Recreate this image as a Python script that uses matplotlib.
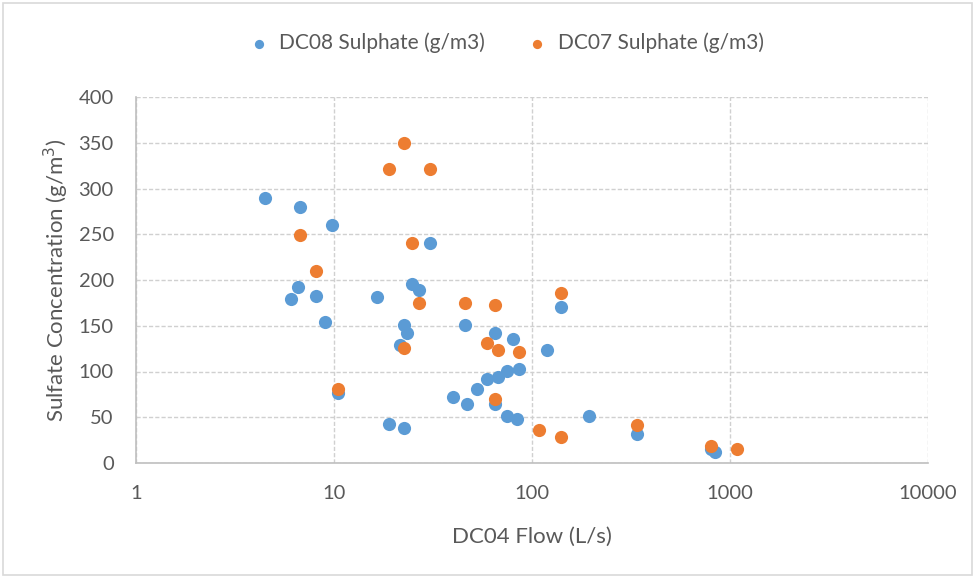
import matplotlib
matplotlib.use('Agg')
import matplotlib.pyplot as plt
from matplotlib.ticker import FixedLocator, FixedFormatter, NullLocator
from matplotlib.patches import Rectangle

# DC08 sulphate vs DC04 flow
dc08_flow = [4.5, 6.7, 9.8, 6.6, 6.1, 8.1, 9.0, 30.5, 24.8, 26.9, 16.5, 22.6,
             23.4, 21.5, 45.9, 10.5, 18.9, 22.6, 39.9, 47, 52.7, 59.3, 67.3,
             74.8, 86, 65, 80.2, 119, 140, 65, 74.8, 84, 194, 339, 800, 840]
dc08_so4 = [290, 280, 260, 192, 179, 183, 154, 240, 196, 189, 181, 151,
            142, 129, 151, 77, 43, 38, 72, 64, 81, 92, 94,
            101, 103, 142, 135, 124, 171, 65, 51, 48, 51, 32, 15, 12]

# DC07 sulphate vs DC04 flow
dc07_flow = [22.6, 18.9, 30.5, 6.7, 8.1, 24.8, 26.9, 45.9, 65, 140, 22.6,
             59.3, 67.3, 86, 10.5, 65, 108, 140, 339, 802, 1085]
dc07_so4 = [350, 321, 321, 249, 210, 240, 175, 175, 173, 186, 126,
            131, 123, 121, 81, 70, 36, 28, 41, 19, 15]

x_ticks = [1, 10, 100, 1000, 10000]
x_tick_labels = ['1', '10', '100', '1000', '10000']
y_ticks = [0, 50, 100, 150, 200, 250, 300, 350, 400]

blue = '#5B9BD5'
orange = '#ED7D31'
txt = '#595959'
grid_c = '#D0D0D0'

plt.rcParams['font.family'] = ['Lato', 'DejaVu Sans']

fig = plt.figure(figsize=(9.75, 5.78), dpi=100)
ax = fig.add_axes([136/975, 1-463/578, (928-136)/975, (463-97)/578])

ax.scatter(dc08_flow, dc08_so4, s=90, c=blue, label='DC08 Sulphate (g/m3)', zorder=3, linewidths=0)
ax.scatter(dc07_flow, dc07_so4, s=90, c=orange, label='DC07 Sulphate (g/m3)', zorder=3, linewidths=0)

ax.set_xscale('log')
ax.set_xlim(1, 10000)
ax.set_ylim(0, 400)
ax.xaxis.set_major_locator(FixedLocator(x_ticks))
ax.xaxis.set_major_formatter(FixedFormatter(x_tick_labels))
ax.xaxis.set_minor_locator(NullLocator())
ax.set_yticks(y_ticks)

ax.grid(True, color=grid_c, linestyle=(0, (3, 1.5)), lw=1, zorder=0)
for s in ['top', 'right']:
    ax.spines[s].set_visible(False)
for s in ['left', 'bottom']:
    ax.spines[s].set_color('#BFBFBF')
    ax.spines[s].set_linewidth(1.2)
ax.tick_params(length=0, labelsize=14.5, labelcolor=txt)
ax.tick_params(axis='x', pad=16)
ax.tick_params(axis='y', pad=16)

ax.set_xlabel('DC04 Flow (L/s)', fontsize=16, color=txt, va='center')
ax.xaxis.set_label_coords(0.5, (463-537)/366)
ax.set_ylabel('Sulfate Concentration (g/m$^3$)', fontsize=16, color=txt, va='center')
ax.yaxis.set_label_coords((56-136)/792, 0.5)

leg = fig.legend(loc='center', bbox_to_anchor=(501/975, 1-43/578), ncol=2, frameon=False,
                 fontsize=15, markerscale=0.7, handletextpad=0.0, columnspacing=1.5,
                 labelcolor=txt)

fig.patches.append(Rectangle((3/975, 3/578), 1-6/975, 1-6/578, transform=fig.transFigure,
                             fill=False, edgecolor='#D9D9D9', lw=1.2))

fig.savefig('out.png', dpi=100)
